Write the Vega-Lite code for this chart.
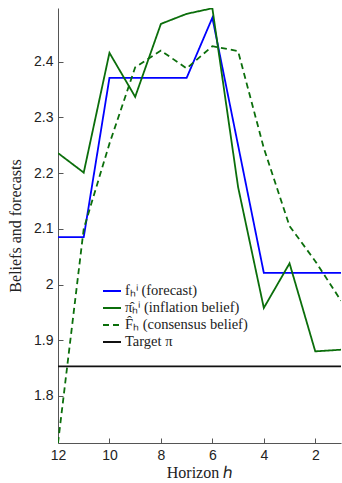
{
  "$schema": "https://vega.github.io/schema/vega-lite/v6.json",
  "autosize": {"type": "none"},
  "width": 283,
  "height": 435,
  "padding": {"left": 58, "top": 8, "right": 1, "bottom": 40},
  "background": "white",
  "config": {
    "view": {"stroke": null},
    "axis": {
      "domainColor": "#555555",
      "tickColor": "#555555",
      "grid": false,
      "labelFont": "Liberation Sans",
      "labelFontSize": 14,
      "labelColor": "#222222",
      "titleFont": "Liberation Serif",
      "titleFontWeight": "normal",
      "titleFontSize": 16,
      "titleColor": "#222222"
    }
  },
  "data": {
    "values": [
      {"series": "forecast", "h": 12, "v": 2.085},
      {"series": "forecast", "h": 11, "v": 2.085},
      {"series": "forecast", "h": 10, "v": 2.371},
      {"series": "forecast", "h": 9, "v": 2.371},
      {"series": "forecast", "h": 8, "v": 2.371},
      {"series": "forecast", "h": 7, "v": 2.371},
      {"series": "forecast", "h": 6, "v": 2.479},
      {"series": "forecast", "h": 5, "v": 2.25},
      {"series": "forecast", "h": 4, "v": 2.021},
      {"series": "forecast", "h": 3, "v": 2.021},
      {"series": "forecast", "h": 2, "v": 2.021},
      {"series": "forecast", "h": 1, "v": 2.021},
      {"series": "belief", "h": 12, "v": 2.236},
      {"series": "belief", "h": 11, "v": 2.201},
      {"series": "belief", "h": 10, "v": 2.416},
      {"series": "belief", "h": 9, "v": 2.337},
      {"series": "belief", "h": 8, "v": 2.468},
      {"series": "belief", "h": 7, "v": 2.486},
      {"series": "belief", "h": 6, "v": 2.496},
      {"series": "belief", "h": 5, "v": 2.175},
      {"series": "belief", "h": 4, "v": 1.958},
      {"series": "belief", "h": 3, "v": 2.038},
      {"series": "belief", "h": 2, "v": 1.88},
      {"series": "belief", "h": 1, "v": 1.883},
      {"series": "consensus", "h": 12, "v": 1.7155},
      {"series": "consensus", "h": 11, "v": 2.1},
      {"series": "consensus", "h": 10, "v": 2.253},
      {"series": "consensus", "h": 9, "v": 2.39},
      {"series": "consensus", "h": 8, "v": 2.42},
      {"series": "consensus", "h": 7, "v": 2.388},
      {"series": "consensus", "h": 6, "v": 2.428},
      {"series": "consensus", "h": 5, "v": 2.419},
      {"series": "consensus", "h": 4, "v": 2.245},
      {"series": "consensus", "h": 3, "v": 2.105},
      {"series": "consensus", "h": 2, "v": 2.042},
      {"series": "consensus", "h": 1, "v": 1.971},
      {"series": "target", "h": 12, "v": 1.853},
      {"series": "target", "h": 1, "v": 1.853}
    ]
  },
  "mark": {"type": "line", "clip": true, "strokeWidth": 1.8},
  "encoding": {
    "x": {
      "field": "h", "type": "quantitative",
      "scale": {"domain": [1, 12], "reverse": true, "nice": false, "zero": false},
      "axis": {"values": [12, 10, 8, 6, 4, 2], "title": "Horizon ℎ", "tickSize": -5, "labelPadding": 10, "titlePadding": 2, "labelFlush": false}
    },
    "y": {
      "field": "v", "type": "quantitative",
      "scale": {"domain": [1.7155, 2.4965], "nice": false, "zero": false},
      "axis": {"values": [1.8, 1.9, 2.0, 2.1, 2.2, 2.3, 2.4], "format": ".1~f", "title": "Beliefs and forecasts", "tickSize": -5, "labelPadding": 10, "titlePadding": 10, "labelFlush": false}
    },
    "color": {
      "field": "series", "type": "nominal",
      "scale": {"domain": ["forecast", "belief", "consensus", "target"], "range": ["#0000ff", "#0b6e0b", "#0b6e0b", "#111111"]},
      "legend": {
        "orient": "none", "legendX": 44, "legendY": 273, "title": null,
        "symbolType": "stroke", "symbolSize": 324, "symbolStrokeWidth": 2,
        "labelFont": "Liberation Serif", "labelFontSize": 14.5, "labelColor": "#222222",
        "rowPadding": 0, "symbolOffset": 0, "labelOffset": 3,
        "labelExpr": "datum.value == 'forecast' ? 'fₕⁱ (forecast)' : datum.value == 'belief' ? 'π̂ₕⁱ (inflation belief)' : datum.value == 'consensus' ? 'F̂ₕ (consensus belief)' : 'Target π'"
      }
    },
    "strokeDash": {
      "field": "series", "type": "nominal",
      "scale": {"domain": ["forecast", "belief", "consensus", "target"], "range": [[1, 0], [1, 0], [6, 4], [1, 0]]},
      "legend": null
    },
    "strokeWidth": {
      "field": "series", "type": "nominal",
      "scale": {"domain": ["forecast", "belief", "consensus", "target"], "range": [1.8, 1.8, 1.8, 2.6]},
      "legend": null
    }
  }
}
